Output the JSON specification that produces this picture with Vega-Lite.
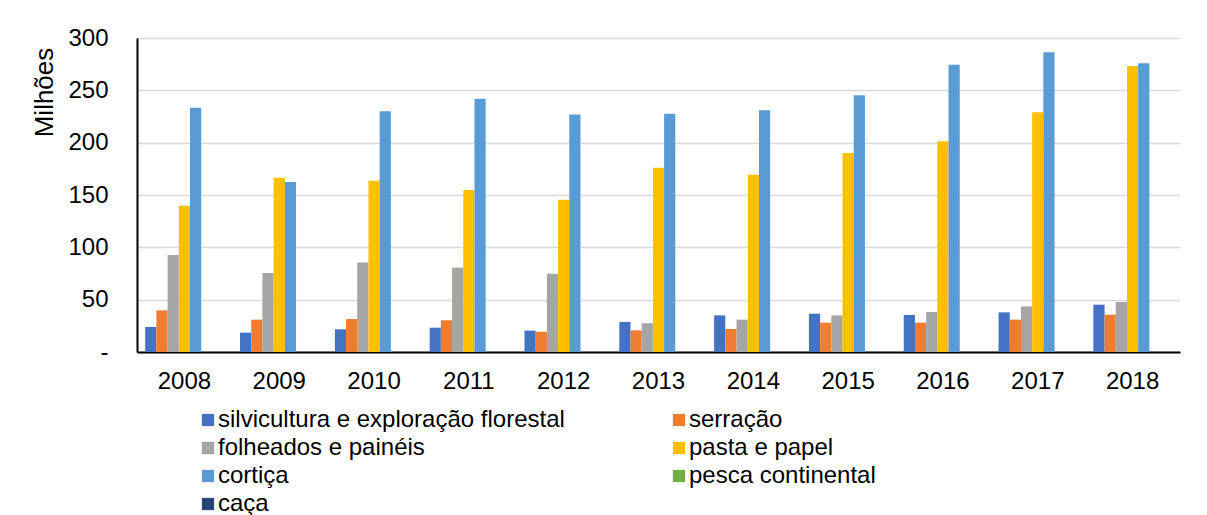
{
  "$schema": "https://vega.github.io/schema/vega-lite/v6.json",
  "autosize": "none",
  "width": 1043,
  "height": 314,
  "padding": {"left": 137, "top": 38, "right": 27, "bottom": 163},
  "background": "white",
  "config": {
    "font": "Liberation Sans",
    "view": {"stroke": null},
    "axis": {"labelFont": "Liberation Sans", "titleFont": "Liberation Sans"}
  },
  "data": {
    "values": [
      {"ano": "2008", "setor": "silvicultura e exploração florestal", "valor": 23.9},
      {"ano": "2008", "setor": "serração", "valor": 39.8},
      {"ano": "2008", "setor": " folheados e painéis", "valor": 92.7},
      {"ano": "2008", "setor": "pasta e papel", "valor": 139.8},
      {"ano": "2008", "setor": "cortiça", "valor": 233.4},
      {"ano": "2008", "setor": "pesca continental", "valor": 0},
      {"ano": "2008", "setor": "caça", "valor": 0},
      {"ano": "2009", "setor": "silvicultura e exploração florestal", "valor": 18.5},
      {"ano": "2009", "setor": "serração", "valor": 30.9},
      {"ano": "2009", "setor": " folheados e painéis", "valor": 75.5},
      {"ano": "2009", "setor": "pasta e papel", "valor": 166.6},
      {"ano": "2009", "setor": "cortiça", "valor": 162.4},
      {"ano": "2009", "setor": "pesca continental", "valor": 0},
      {"ano": "2009", "setor": "caça", "valor": 0},
      {"ano": "2010", "setor": "silvicultura e exploração florestal", "valor": 21.7},
      {"ano": "2010", "setor": "serração", "valor": 31.5},
      {"ano": "2010", "setor": " folheados e painéis", "valor": 85.4},
      {"ano": "2010", "setor": "pasta e papel", "valor": 163.7},
      {"ano": "2010", "setor": "cortiça", "valor": 229.9},
      {"ano": "2010", "setor": "pesca continental", "valor": 0},
      {"ano": "2010", "setor": "caça", "valor": 0},
      {"ano": "2011", "setor": "silvicultura e exploração florestal", "valor": 23.2},
      {"ano": "2011", "setor": "serração", "valor": 30.3},
      {"ano": "2011", "setor": " folheados e painéis", "valor": 80.6},
      {"ano": "2011", "setor": "pasta e papel", "valor": 154.8},
      {"ano": "2011", "setor": "cortiça", "valor": 242.0},
      {"ano": "2011", "setor": "pesca continental", "valor": 0},
      {"ano": "2011", "setor": "caça", "valor": 0},
      {"ano": "2012", "setor": "silvicultura e exploração florestal", "valor": 20.4},
      {"ano": "2012", "setor": "serração", "valor": 19.4},
      {"ano": "2012", "setor": " folheados e painéis", "valor": 74.8},
      {"ano": "2012", "setor": "pasta e papel", "valor": 145.5},
      {"ano": "2012", "setor": "cortiça", "valor": 226.8},
      {"ano": "2012", "setor": "pesca continental", "valor": 0},
      {"ano": "2012", "setor": "caça", "valor": 0},
      {"ano": "2013", "setor": "silvicultura e exploração florestal", "valor": 28.7},
      {"ano": "2013", "setor": "serração", "valor": 20.7},
      {"ano": "2013", "setor": " folheados e painéis", "valor": 27.4},
      {"ano": "2013", "setor": "pasta e papel", "valor": 176.1},
      {"ano": "2013", "setor": "cortiça", "valor": 227.7},
      {"ano": "2013", "setor": "pesca continental", "valor": 0},
      {"ano": "2013", "setor": "caça", "valor": 0},
      {"ano": "2014", "setor": "silvicultura e exploração florestal", "valor": 35.0},
      {"ano": "2014", "setor": "serração", "valor": 22.0},
      {"ano": "2014", "setor": " folheados e painéis", "valor": 30.9},
      {"ano": "2014", "setor": "pasta e papel", "valor": 169.4},
      {"ano": "2014", "setor": "cortiça", "valor": 230.9},
      {"ano": "2014", "setor": "pesca continental", "valor": 0},
      {"ano": "2014", "setor": "caça", "valor": 0},
      {"ano": "2015", "setor": "silvicultura e exploração florestal", "valor": 36.6},
      {"ano": "2015", "setor": "serração", "valor": 28.0},
      {"ano": "2015", "setor": " folheados e painéis", "valor": 35.0},
      {"ano": "2015", "setor": "pasta e papel", "valor": 190.1},
      {"ano": "2015", "setor": "cortiça", "valor": 245.2},
      {"ano": "2015", "setor": "pesca continental", "valor": 0},
      {"ano": "2015", "setor": "caça", "valor": 0},
      {"ano": "2016", "setor": "silvicultura e exploração florestal", "valor": 35.4},
      {"ano": "2016", "setor": "serração", "valor": 28.0},
      {"ano": "2016", "setor": " folheados e painéis", "valor": 38.2},
      {"ano": "2016", "setor": "pasta e papel", "valor": 201.3},
      {"ano": "2016", "setor": "cortiça", "valor": 274.5},
      {"ano": "2016", "setor": "pesca continental", "valor": 0},
      {"ano": "2016", "setor": "caça", "valor": 0},
      {"ano": "2017", "setor": "silvicultura e exploração florestal", "valor": 37.9},
      {"ano": "2017", "setor": "serração", "valor": 30.9},
      {"ano": "2017", "setor": " folheados e painéis", "valor": 43.6},
      {"ano": "2017", "setor": "pasta e papel", "valor": 229.0},
      {"ano": "2017", "setor": "cortiça", "valor": 286.3},
      {"ano": "2017", "setor": "pesca continental", "valor": 0},
      {"ano": "2017", "setor": "caça", "valor": 0},
      {"ano": "2018", "setor": "silvicultura e exploração florestal", "valor": 45.2},
      {"ano": "2018", "setor": "serração", "valor": 35.7},
      {"ano": "2018", "setor": " folheados e painéis", "valor": 47.8},
      {"ano": "2018", "setor": "pasta e papel", "valor": 273.2},
      {"ano": "2018", "setor": "cortiça", "valor": 275.8},
      {"ano": "2018", "setor": "pesca continental", "valor": 0},
      {"ano": "2018", "setor": "caça", "valor": 0}
    ]
  },
  "mark": {"type": "bar"},
  "encoding": {
    "x": {
      "field": "ano",
      "type": "nominal",
      "scale": {"paddingInner": 0.173, "paddingOuter": 0.0865},
      "axis": {
        "title": null,
        "labelAngle": 0,
        "labelFontSize": 24,
        "labelColor": "black",
        "labelPadding": 17,
        "ticks": false,
        "domainColor": "black",
        "domainWidth": 2,
        "grid": false
      }
    },
    "xOffset": {
      "field": "setor",
      "type": "nominal",
      "sort": ["silvicultura e exploração florestal", "serração", " folheados e painéis", "pasta e papel", "cortiça", "pesca continental", "caça"],
      "scale": {"paddingInner": 0, "paddingOuter": 0}
    },
    "y": {
      "field": "valor",
      "type": "quantitative",
      "scale": {"domain": [0, 300], "nice": false},
      "axis": {
        "values": [0, 50, 100, 150, 200, 250, 300],
        "labelExpr": "datum.value == 0 ? '-' : datum.label",
        "labelFontSize": 24,
        "labelColor": "black",
        "labelPadding": 29,
        "ticks": false,
        "domainColor": "black",
        "domainWidth": 2,
        "gridColor": "#D9D9D9",
        "gridWidth": 1.5,
        "title": "Milhões",
        "titleFontSize": 26,
        "titleFontWeight": "normal",
        "titleColor": "black",
        "titleAngle": -90,
        "titleX": -85,
        "titleY": 54,
        "titleAlign": "center",
        "titleBaseline": "alphabetic"
      }
    },
    "color": {
      "field": "setor",
      "type": "nominal",
      "sort": ["silvicultura e exploração florestal", "serração", " folheados e painéis", "pasta e papel", "cortiça", "pesca continental", "caça"],
      "scale": {
        "domain": ["silvicultura e exploração florestal", "serração", " folheados e painéis", "pasta e papel", "cortiça", "pesca continental", "caça"],
        "range": ["#4472C4", "#ED7D31", "#A5A5A5", "#FFC000", "#5B9BD5", "#70AD47", "#264478"]
      },
      "legend": {
        "title": null,
        "orient": "none",
        "legendX": 59,
        "legendY": 370,
        "direction": "horizontal",
        "columns": 2,
        "columnPadding": 102,
        "rowPadding": 4,
        "padding": 0,
        "symbolType": "square",
        "symbolSize": 150,
        "symbolStrokeWidth": 0,
        "labelOffset": -2,
        "labelFontSize": 24,
        "labelColor": "black",
        "labelLimit": 0
      }
    }
  }
}
